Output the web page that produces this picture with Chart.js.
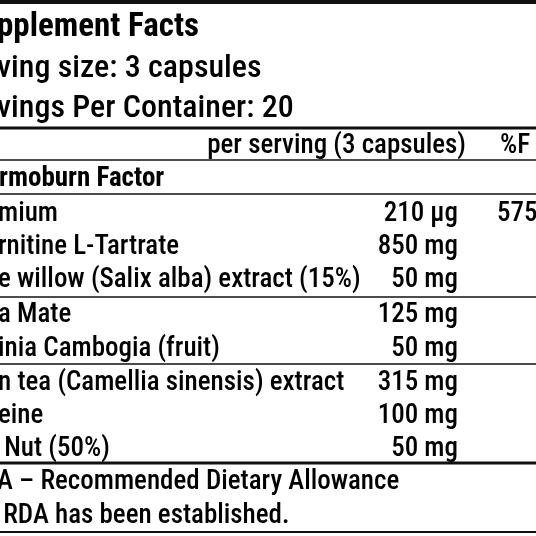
<!DOCTYPE html><html><head><meta charset="utf-8">
<script src="https://cdn.jsdelivr.net/npm/chart.js@4"></script>
<style>html,body{margin:0;padding:0;background:#fff}#w{width:536px;height:536px}</style></head><body>
<div id="w"><canvas id="c" width="536" height="536"></canvas></div>
<script>
const headerLines=["pplement Facts","ving size: 3 capsules","vings Per Container: 20"];
const ingredients=["mium","rnitine L-Tartrate","e willow (Salix alba) extract (15%)","a Mate","inia Cambogia (fruit)","n tea (Camellia sinensis) extract","eine"," Nut (50%)"];
const amounts=["210 µg","850 mg","50 mg","125 mg","50 mg","315 mg","100 mg","50 mg"];
const rdas=["575",""," "," "," "," "," "," "];
const footer=["A – Recommended Dietary Allowance"," RDA has been established."];
const baselines=[36,77,117,153,186,221,254,287,322,356,390,423,456,489,523];
const rules=[[2,4],[128,3],[160,1.5],[194,1.5],[297,1.5],[364,1.5],[463,3],[532,2]];
const F='"Roboto Condensed","Liberation Sans Narrow","Liberation Sans",sans-serif';
const plug={id:'lab',afterDraw(ch){
 const c=ch.ctx,y=ch.scales.y;c.save();c.fillStyle='#000';c.strokeStyle='#111';
 const P=i=>y.getPixelForValue(baselines[i]);
 rules.forEach(r=>{c.lineWidth=r[1];c.beginPath();c.moveTo(0,y.getPixelForValue(r[0]));c.lineTo(536,y.getPixelForValue(r[0]));c.stroke();});
 c.textBaseline='alphabetic';
 c.font='bold 33px '+F;c.fillText(headerLines[0],-3,P(0));
 c.font='500 32px '+F;c.fillText(headerLines[1],-3,P(1));c.fillText(headerLines[2],-3,P(2));
 c.font='500 27px '+F;c.textAlign='right';c.fillText('per serving (3 capsules)',466,P(3));
 c.textAlign='left';c.fillText('%F',500,P(3));
 c.font='bold 27px '+F;c.fillText('rmoburn Factor',-1,P(4));
 c.font='500 27px '+F;
 ingredients.forEach((s,i)=>{c.textAlign='left';c.fillText(s,-2,P(5+i));c.textAlign='right';c.fillText(amounts[i],458,P(5+i));c.textAlign='left';c.fillText(rdas[i],497,P(5+i));});
 c.textAlign='left';c.fillText(footer[0],-3,P(13));c.fillText(footer[1],-3,P(14));
 c.restore();}};
new Chart(document.getElementById('c'),{type:'scatter',data:{datasets:[{data:[]}]},
 options:{responsive:false,animation:false,layout:{padding:0},plugins:{legend:{display:false},tooltip:{enabled:false}},
 scales:{x:{display:false,min:0,max:536},y:{display:false,min:0,max:536,reverse:true}}},plugins:[plug]});
</script></body></html>
